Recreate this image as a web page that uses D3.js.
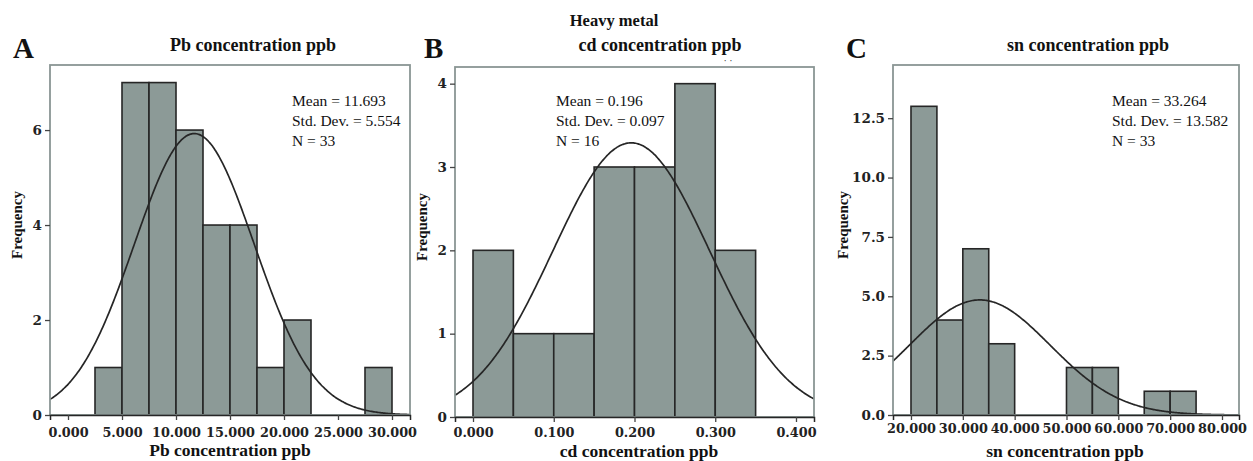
<!DOCTYPE html>
<html><head><meta charset="utf-8">
<script src="https://cdn.jsdelivr.net/npm/d3@7"></script>
<style>body{margin:0;background:#fff}</style></head>
<body>
<svg id="chart" width="1253" height="461"></svg>
<script>
// ---- data ----
const pbBinStarts = [2.5, 5, 7.5, 10, 12.5, 15, 17.5, 20, 27.5];
const pbCounts    = [1, 7, 7, 6, 4, 4, 1, 2, 1];
const pbBinWidth  = 2.5;
const pbStats     = [11.693, 5.554, 33]; // mean, sd, N
const pbXTicks    = [0, 5, 10, 15, 20, 25, 30];
const pbYTicks    = [0, 2, 4, 6];

const cdBinStarts = [0, 0.05, 0.1, 0.15, 0.2, 0.25, 0.3];
const cdCounts    = [2, 1, 1, 3, 3, 4, 2];
const cdBinWidth  = 0.05;
const cdStats     = [0.196, 0.097, 16];
const cdXTicks    = [0, 0.1, 0.2, 0.3, 0.4];
const cdYTicks    = [0, 1, 2, 3, 4];

const snBinStarts = [20, 25, 30, 35, 50, 55, 65, 70];
const snCounts    = [13, 4, 7, 3, 2, 2, 1, 1];
const snBinWidth  = 5;
const snStats     = [33.264, 13.582, 33];
const snXTicks    = [20, 30, 40, 50, 60, 70, 80];
const snYTicks    = [0, 2.5, 5, 7.5, 10, 12.5];

const panelLetters = ["A", "B", "C"];
const panelTitles  = ["Pb concentration ppb", "cd concentration ppb", "sn concentration ppb"];
const xAxisTitles  = ["Pb concentration ppb", "cd concentration ppb", "sn concentration ppb"];
const yAxisTitle   = "Frequency";
const superTitle   = "Heavy metal";
const statsLabels  = ["Mean = ", "Std. Dev. = ", "N = "];

// ---- layout ----
const svg = d3.select("#chart");
const FRAME = "#8a9694", BAR = "#8c9a97", INK = "#262626";
const serif = "'Liberation Serif', 'Times New Roman', serif";
const tickFont = "'DejaVu Serif', serif";

const panels = [
  {starts: pbBinStarts, counts: pbCounts, w: pbBinWidth, stats: pbStats, xt: pbXTicks, yt: pbYTicks,
   xDom: [-1.667, 31.667], yDom: [0, 7.37], L: 50, R: 410, T: 65, B: 415,
   xf: d3.format(".3f"), yf: d3.format("d"), statsDec: [3, 3, 0],
   letter: [13, 58], title: [253, 51], statsPos: [292, 106], xTitle: 230, xTitleY: 456, yTitleX: 22, xLabY: 437},
  {starts: cdBinStarts, counts: cdCounts, w: cdBinWidth, stats: cdStats, xt: cdXTicks, yt: cdYTicks,
   xDom: [-0.0223, 0.4223], yDom: [0, 4.2], L: 455, R: 814, T: 67, B: 417,
   xf: d3.format(".3f"), yf: d3.format("d"), statsDec: [3, 3, 0],
   letter: [424, 58], title: [660, 51], statsPos: [556, 106], xTitle: 639, xTitleY: 457, yTitleX: 427, xLabY: 437},
  {starts: snBinStarts, counts: snCounts, w: snBinWidth, stats: snStats, xt: snXTicks, yt: snYTicks,
   xDom: [16.53, 83.28], yDom: [0, 14.74], L: 893, R: 1239, T: 65, B: 415,
   xf: d3.format(".3f"), yf: d3.format(".1f"), statsDec: [3, 3, 0],
   letter: [846, 58], title: [1088, 51], statsPos: [1112, 106], xTitle: 1065, xTitleY: 457, yTitleX: 848, xLabY: 433}
];

panels.forEach((p, i) => {
  const g = svg.append("g");
  const x = d3.scaleLinear().domain(p.xDom).range([p.L, p.R]);
  const y = d3.scaleLinear().domain(p.yDom).range([p.B, p.T]);

  const clipId = "clip" + i;
  svg.append("clipPath").attr("id", clipId).append("rect")
    .attr("x", p.L).attr("y", p.T).attr("width", p.R - p.L).attr("height", p.B - p.T);

  // bars
  g.selectAll("rect.bar").data(p.starts.map((s, k) => ({s, c: p.counts[k]})))
    .join("rect").attr("class", "bar")
    .attr("x", d => x(d.s)).attr("width", d => x(d.s + p.w) - x(d.s))
    .attr("y", d => y(d.c)).attr("height", d => y(0) - y(d.c))
    .attr("fill", BAR).attr("stroke", INK).attr("stroke-width", 1.6);

  // normal curve
  const [mean, sd, n] = p.stats;
  const pts = d3.range(0, 301).map(k => {
    const xv = p.xDom[0] + (p.xDom[1] - p.xDom[0]) * k / 300;
    const z = (xv - mean) / sd;
    return [xv, n * p.w * Math.exp(-0.5 * z * z) / (sd * Math.sqrt(2 * Math.PI))];
  });
  g.append("path").datum(pts)
    .attr("clip-path", `url(#${clipId})`)
    .attr("d", d3.line().x(d => x(d[0])).y(d => y(d[1])).curve(d3.curveBasis))
    .attr("fill", "none").attr("stroke", INK).attr("stroke-width", 1.7);

  // frame
  g.append("rect").attr("x", p.L).attr("y", p.T).attr("width", p.R - p.L).attr("height", p.B - p.T)
    .attr("fill", "none").attr("stroke", FRAME).attr("stroke-width", 1.8);

  // axes
  const xAxis = d3.axisBottom(x).tickValues(p.xt).tickFormat(p.xf).tickSize(5).tickPadding(p.xLabY - p.B - 14);
  const ax = g.append("g").attr("transform", `translate(0,${p.B})`).call(xAxis);
  ax.select(".domain").attr("stroke", INK).attr("stroke-width", 1.5);
  ax.selectAll(".tick line").attr("stroke", "#444").attr("stroke-width", 1.3);
  ax.selectAll(".tick text").attr("font-family", tickFont).attr("font-weight", "bold")
    .attr("font-size", 12.8).attr("fill", "#222");

  const yAxis = d3.axisLeft(y).tickValues(p.yt).tickFormat(p.yf).tickSize(5).tickPadding(3);
  const ay = g.append("g").attr("transform", `translate(${p.L},0)`).call(yAxis);
  ay.select(".domain").remove();
  ay.selectAll(".tick line").attr("stroke", "#444").attr("stroke-width", 1.3);
  ay.selectAll(".tick text").attr("font-family", tickFont).attr("font-weight", "bold")
    .attr("font-size", 13.5).attr("fill", "#222");

  // texts
  g.append("text").attr("x", p.letter[0]).attr("y", p.letter[1]).text(panelLetters[i])
    .attr("font-family", serif).attr("font-weight", "bold").attr("font-size", 29).attr("fill", "#111");
  g.append("text").attr("x", p.title[0]).attr("y", p.title[1]).attr("text-anchor", "middle")
    .text(panelTitles[i]).attr("font-family", serif).attr("font-weight", "bold").attr("font-size", 18).attr("fill", "#111");
  g.append("text").attr("x", p.xTitle).attr("y", p.xTitleY)
    .attr("text-anchor", "middle").text(xAxisTitles[i])
    .attr("font-family", serif).attr("font-weight", "bold").attr("font-size", 17.5).attr("fill", "#111");
  g.append("text").attr("transform", `translate(${p.yTitleX},${(p.T + p.B) / 2 - 15}) rotate(-90)`)
    .attr("text-anchor", "middle").text(yAxisTitle)
    .attr("font-family", serif).attr("font-weight", "bold").attr("font-size", 15).attr("fill", "#111");

  const st = g.append("text").attr("font-family", serif).attr("font-size", 15.5).attr("fill", "#111");
  p.stats.forEach((v, k) => {
    st.append("tspan").attr("x", p.statsPos[0]).attr("y", p.statsPos[1] + k * 20)
      .text(statsLabels[k] + v.toFixed(p.statsDec[k]));
  });
});

svg.append("text").attr("x", 614).attr("y", 26).attr("text-anchor", "middle").text(superTitle)
  .attr("font-family", serif).attr("font-weight", "bold").attr("font-size", 16.5).attr("fill", "#111");
svg.append("text").attr("x", 728).attr("y", 64).attr("text-anchor", "middle").text("· ·")
  .attr("font-family", serif).attr("font-size", 10).attr("fill", "#333");
</script>
</body></html>
